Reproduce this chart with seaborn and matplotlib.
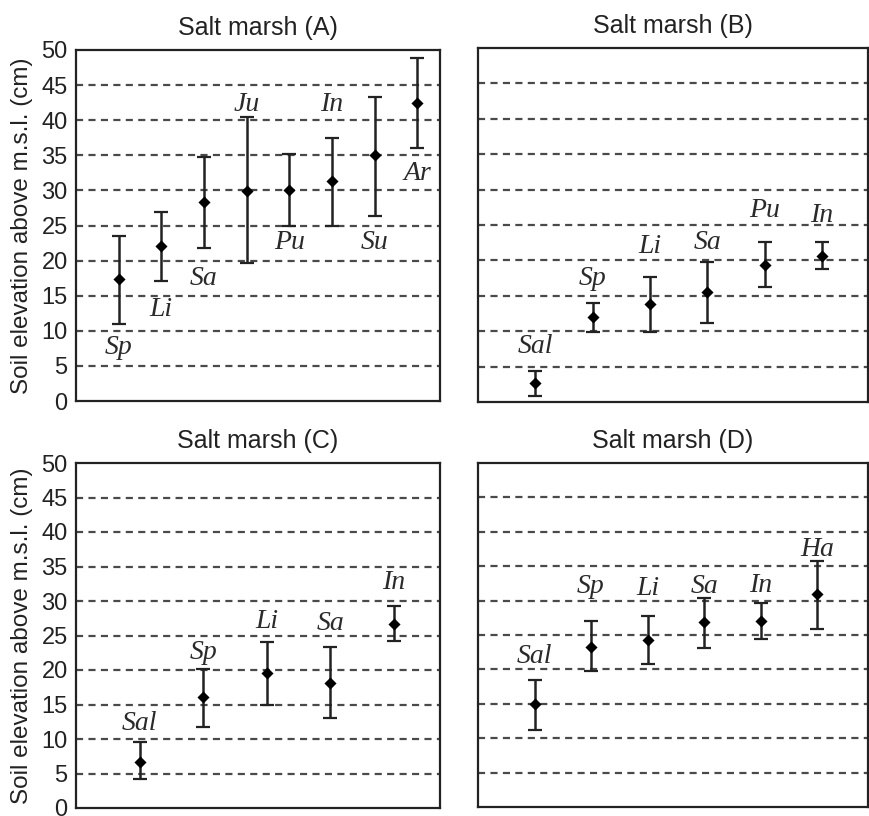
import matplotlib
matplotlib.use("Agg")
import matplotlib.pyplot as plt
import seaborn as sns
import pandas as pd

# ---------------- data ----------------
species_a = ["Sp", "Li", "Sa", "Ju", "Pu", "In", "Su", "Ar"]
mean_a = [17.4, 22.1, 28.3, 29.9, 30.1, 31.3, 35.0, 42.5]
low_a = [11.0, 17.1, 21.8, 19.7, 25.0, 25.0, 26.4, 36.1]
high_a = [23.5, 26.9, 34.8, 40.4, 35.2, 37.4, 43.3, 48.8]
label_y_a = [7.6, 13.1, 17.4, 42.3, 22.6, 42.3, 22.6, 32.4]

species_b = ["Sal", "Sp", "Li", "Sa", "Pu", "In"]
mean_b = [2.7, 12.0, 13.8, 15.5, 19.4, 20.6]
low_b = [0.85, 9.9, 9.9, 11.1, 16.2, 18.8]
high_b = [4.4, 14.0, 17.7, 19.8, 22.6, 22.6]
label_y_b = [7.8, 17.4, 21.9, 22.5, 27.0, 26.3]

species_c = ["Sal", "Sp", "Li", "Sa", "In"]
mean_c = [6.7, 16.1, 19.6, 18.1, 26.7]
low_c = [4.2, 11.8, 14.9, 13.1, 24.2]
high_c = [9.6, 20.2, 24.0, 23.4, 29.3]
label_y_c = [12.2, 22.6, 27.0, 26.7, 32.7]

species_d = ["Sal", "Sp", "Li", "Sa", "In", "Ha"]
mean_d = [15.0, 23.3, 24.3, 26.9, 27.1, 30.9]
low_d = [11.2, 19.7, 20.8, 23.1, 24.4, 25.9]
high_d = [18.5, 27.0, 27.8, 30.4, 29.7, 35.7]
label_y_d = [21.9, 32.1, 31.8, 32.1, 32.2, 37.4]

titles = ["Salt marsh (A)", "Salt marsh (B)", "Salt marsh (C)", "Salt marsh (D)"]
yticks = [0, 5, 10, 15, 20, 25, 30, 35, 40, 45, 50]
ylabel = "Soil elevation above m.s.l. (cm)"

panels = [
    (species_a, mean_a, low_a, high_a, label_y_a),
    (species_b, mean_b, low_b, high_b, label_y_b),
    (species_c, mean_c, low_c, high_c, label_y_c),
    (species_d, mean_d, low_d, high_d, label_y_d),
]

# ---------------- style ----------------
sns.set_style("white")
plt.rcParams["font.family"] = ["Liberation Sans", "DejaVu Sans"]

fig = plt.figure(figsize=(8.69, 8.16), dpi=100)
W, H = 869, 816
boxes = [  # left, top, right, bottom in pixels
    (76, 50, 440, 401),
    (478, 48, 868, 402),
    (76, 463, 440, 808),
    (478, 463, 868, 807),
]
xlims = [(0, 8.53), (0, 6.8), (0, 5.73), (0, 6.9)]

for i, ((sp, m, lo, hi, ly), (l, t, r, b)) in enumerate(zip(panels, boxes)):
    ax = fig.add_axes([l / W, 1 - b / H, (r - l) / W, (b - t) / H])
    x = list(range(1, len(sp) + 1))
    df = pd.DataFrame({"x": x, "mean": m, "low": lo, "high": hi, "species": sp})
    # grid
    for yv in yticks[1:-1]:
        ax.axhline(yv, color="#4a4a4a", lw=1.6, ls=(0, (3.2, 2.4)), zorder=1)
    # error bars
    ax.errorbar(df["x"], df["mean"],
                yerr=[df["mean"] - df["low"], df["high"] - df["mean"]],
                fmt="none", ecolor="#222222", elinewidth=1.8, capsize=5,
                capthick=1.6, zorder=2)
    sns.scatterplot(data=df, x="x", y="mean", marker="D", color="black",
                    s=38, edgecolor="black", linewidth=0, ax=ax, zorder=3,
                    legend=False)
    for xi, name, yy in zip(x, sp, ly):
        ax.text(xi, yy, name, ha="center", va="center", fontsize=20,
                fontstyle="italic", family=["Liberation Serif", "DejaVu Serif"],
                color="#2a2a2a")
    ax.set_xlim(*xlims[i])
    ax.set_ylim(0, 50)
    ax.set_xticks([])
    ax.set_xlabel("")
    ax.set_yticks(yticks)
    if i in (0, 2):
        ax.set_yticklabels([str(v) for v in yticks], fontsize=17, color="#222222")
        ax.set_ylabel(ylabel, fontsize=17.5, labelpad=6, color="#222222")
    else:
        ax.set_yticklabels([])
        ax.set_ylabel("")
    ax.tick_params(axis="y", length=0, pad=6)
    for s in ax.spines.values():
        s.set_visible(True)
        s.set_color("#222222")
        s.set_linewidth(1.6)
    ax.set_title(titles[i], fontsize=18, pad=11, color="#222222")

fig.savefig("out.png", dpi=100)
